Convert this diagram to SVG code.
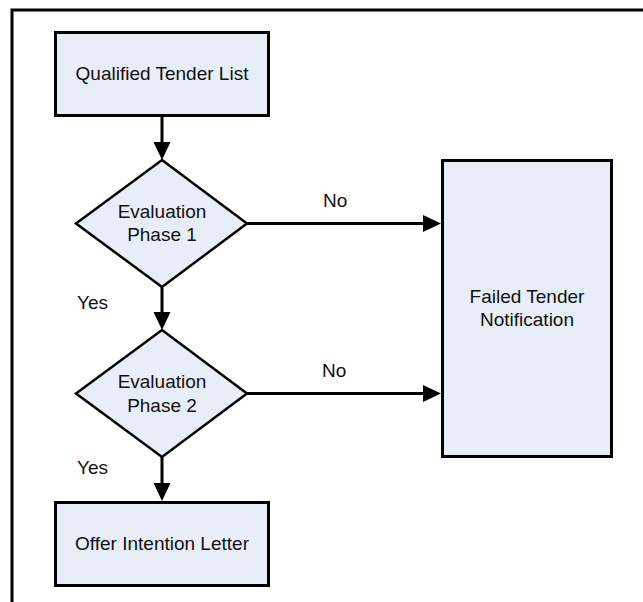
<svg xmlns="http://www.w3.org/2000/svg" width="643" height="602" viewBox="0 0 643 602">
<style>
.node{fill:#E8EEF7;stroke:#000;stroke-width:3}
.dia{fill:#E8EEF7;stroke:#000;stroke-width:2.5;stroke-linejoin:miter}
.t{font-family:"Liberation Sans",Arial,sans-serif;font-size:19px;fill:#111;text-anchor:middle}
.lbl{font-family:"Liberation Sans",Arial,sans-serif;font-size:19px;fill:#111}
.edge{stroke:#000;stroke-width:3;fill:none}
.head{fill:#000}
</style>
<rect width="643" height="602" fill="#fff"/>
<path d="M12,602 V10 H643" fill="none" stroke="#000" stroke-width="3"/>
<g id="connectors">
<line class="edge" x1="162" y1="117" x2="162" y2="143"/>
<polygon class="head" points="153.5,142 170.5,142 162,160"/>
<line class="edge" x1="162" y1="287" x2="162" y2="313"/>
<polygon class="head" points="153.5,312 170.5,312 162,330"/>
<line class="edge" x1="162" y1="457" x2="162" y2="484"/>
<polygon class="head" points="153.5,483 170.5,483 162,501"/>
<line class="edge" x1="247" y1="223.5" x2="424" y2="223.5"/>
<polygon class="head" points="423,215 423,232 441,223.5"/>
<line class="edge" x1="247" y1="393.5" x2="424" y2="393.5"/>
<polygon class="head" points="423,385 423,402 441,393.5"/>
<text class="lbl" x="323" y="207">No</text>
<text class="lbl" x="322" y="377">No</text>
<text class="lbl" x="77" y="309">Yes</text>
<text class="lbl" x="77" y="474">Yes</text>
</g>
<g id="qualified">
<rect class="node" x="55.5" y="32.5" width="213" height="83"/>
<text class="t" x="162" y="79.5">Qualified Tender List</text>
</g>
<g id="eval1">
<polygon class="dia" points="162,160 247,223.5 162,287 76,223.5"/>
<text class="t" x="162" y="218">Evaluation</text>
<text class="t" x="162" y="241">Phase 1</text>
</g>
<g id="eval2">
<polygon class="dia" points="162,330 247,393.5 162,457 76,393.5"/>
<text class="t" x="162" y="388">Evaluation</text>
<text class="t" x="162" y="412">Phase 2</text>
</g>
<g id="failed">
<rect class="node" x="442.5" y="160.5" width="169" height="296"/>
<text class="t" x="527" y="303">Failed Tender</text>
<text class="t" x="527" y="326">Notification</text>
</g>
<g id="offer">
<rect class="node" x="55.5" y="502.5" width="213" height="83"/>
<text class="t" x="162" y="550">Offer Intention Letter</text>
</g>
</svg>
